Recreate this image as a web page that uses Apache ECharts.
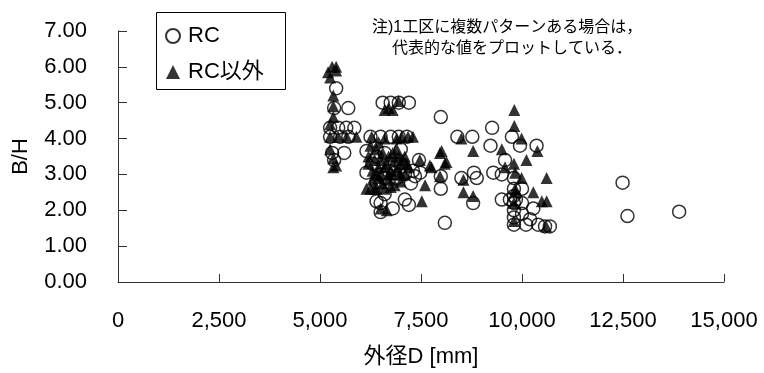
<!DOCTYPE html>
<html>
<head>
<meta charset="utf-8">
<script src="https://cdn.jsdelivr.net/npm/echarts@6/dist/echarts.min.js"></script>
<style>
  body { margin: 0; padding: 0; background: #fff; }
  #chart { width: 764px; height: 373px; }
</style>
</head>
<body>
<div id="chart"></div>
<script>
// 外径D [mm] / B/H — RC
const rcD = [
  5400, 5350, 5700, 5250, 5450, 5650, 5850, 5250, 5500, 5700, 5300, 5600, 5350,
  6550, 6750, 6950, 7200, 6250, 6500, 6750, 6950, 7150,
  6150, 6600, 7000, 7450, 6400, 6850, 6150, 6500, 6850, 7100, 7350,
  6400, 6900, 7250, 6400, 6500, 6800, 7100, 6500, 6600, 7200,
  6300, 6700, 7000, 6600, 7300,
  7990, 8400, 8770, 9260, 9220, 9750, 9950, 10360, 9580,
  7480, 7990, 8500, 8810, 8880, 9290, 9500, 7990, 8790, 9500, 8090,
  9800, 9800, 9800, 9800, 9800, 9800, 9850, 9700, 10000, 10100, 10000,
  10280, 10400, 10570, 10690, 10200, 9800, 10000,
  12490, 12610, 13890
];
const rcBH = [
  5.40, 4.85, 4.85, 4.30, 4.30, 4.30, 4.30, 4.05, 4.05, 4.05, 3.60, 3.60, 3.40,
  5.00, 5.00, 5.00, 5.00, 4.05, 4.05, 4.05, 4.05, 4.05,
  3.65, 3.60, 3.70, 3.40, 3.50, 3.30, 3.05, 3.00, 3.05, 3.00, 2.95,
  2.80, 2.90, 2.75, 2.25, 1.95, 2.05, 2.30, 2.20, 2.45, 2.15,
  3.30, 3.10, 3.30, 2.90, 3.10,
  4.60, 4.05, 4.05, 4.30, 3.80, 4.05, 3.80, 3.80, 3.40,
  3.05, 2.95, 2.90, 3.05, 2.90, 3.05, 3.00, 2.60, 2.20, 2.30, 1.65,
  2.60, 2.40, 2.20, 2.00, 1.80, 1.60, 2.30, 2.30, 2.20, 1.60, 1.90,
  2.05, 1.60, 1.55, 1.55, 1.75, 2.90, 2.60,
  2.77, 1.84, 1.96
];
// RC以外
const otherD = [
  5200, 5400, 5250, 5300, 5400, 5330, 5330, 5330, 5250, 5250, 5450, 5660, 5900, 5330, 5330, 5400, 5250,
  6600, 6800, 6940, 6700, 6280, 7020, 7180, 7300, 6450,
  6200, 6400, 6500, 6600, 6700, 6800, 6900, 7000, 7100, 7200, 6300, 6500, 6700, 6900, 7100,
  6250, 6400, 6600, 6850, 7000, 6300, 6700, 7050, 6500, 6200,
  6250, 6350, 6450, 6550, 6650, 6750, 6850, 6950, 7000, 7150,
  6350, 6550, 6750, 6450, 6650, 6150, 6400, 6800, 6600, 6900,
  7520, 7600, 7720, 7970, 8130, 7970, 7470, 7760, 8010, 8090, 8500, 8790, 9500, 10110, 9580,
  8550, 8550, 8790, 9810, 9810, 9990, 10380, 9830, 9990, 9830, 9830, 10610, 10280, 10490, 10610,
  9800, 9800, 10600, 9800
];
const otherBH = [
  5.85, 5.90, 5.70, 6.00, 6.00, 5.20, 4.90, 4.60, 4.40, 4.05, 4.05, 4.05, 4.05, 3.45, 3.20, 3.25, 3.70,
  4.80, 4.80, 5.05, 4.85, 4.05, 4.05, 4.05, 4.05, 3.90,
  3.50, 3.70, 3.40, 3.20, 3.50, 3.60, 3.70, 3.30, 3.50, 3.20, 3.10, 3.00, 3.00, 3.10, 3.00,
  2.60, 2.60, 2.60, 2.70, 2.80, 2.85, 2.85, 3.40, 2.05, 3.30,
  3.80, 3.40, 3.20, 3.60, 3.30, 3.10, 3.40, 3.50, 3.00, 3.30,
  2.60, 2.75, 2.65, 2.90, 2.00, 2.60, 3.00, 3.00, 4.00, 4.00,
  2.25, 2.70, 3.25, 3.60, 3.35, 2.95, 3.40, 3.20, 3.65, 3.30, 4.00, 3.65, 3.70, 3.40, 3.20,
  2.85, 2.50, 2.40, 4.80, 4.35, 4.00, 3.65, 3.05, 2.90, 2.60, 2.50, 2.90, 2.50, 2.25, 2.25,
  2.20, 1.70, 1.55, 3.30
];
const xTicks = [0, 2500, 5000, 7500, 10000, 12500, 15000];
const yTicks = [0, 1, 2, 3, 4, 5, 6, 7];
const noteLines = ['注)1工区に複数パターンある場合は，', '代表的な値をプロットしている．'];

const FONT = '"Liberation Sans", "Noto Sans CJK JP", sans-serif';
const zip = (xs, ys) => xs.map((x, i) => [x, ys[i]]);

const chart = echarts.init(document.getElementById('chart'));
chart.setOption({
  animation: false,
  textStyle: { fontFamily: FONT, color: '#000' },
  grid: { left: 118, right: 40, top: 31, bottom: 90, containLabel: false },
  xAxis: {
    type: 'value',
    min: xTicks[0],
    max: xTicks[xTicks.length - 1],
    interval: 2500,
    name: '外径D [mm]',
    nameLocation: 'middle',
    nameGap: 64,
    nameTextStyle: { fontSize: 22, fontFamily: FONT, color: '#000' },
    axisLine: { lineStyle: { color: '#333', width: 1 } },
    axisTick: { inside: true, length: 8, lineStyle: { color: '#333' } },
    axisLabel: {
      fontSize: 22, color: '#000', margin: 28,
      formatter: (v) => v.toLocaleString('en-US'),
    },
    splitLine: { show: false },
  },
  yAxis: {
    type: 'value',
    min: yTicks[0],
    max: yTicks[yTicks.length - 1],
    interval: 1,
    name: 'B/H',
    nameLocation: 'middle',
    nameGap: 86,
    nameRotate: 90,
    nameTextStyle: { fontSize: 22, fontFamily: FONT, color: '#000' },
    axisLine: { show: true, lineStyle: { color: '#333', width: 1 } },
    axisTick: { show: true, inside: true, length: 9, lineStyle: { color: '#333' } },
    axisLabel: {
      fontSize: 22, color: '#000', margin: 31,
      formatter: (v) => v.toFixed(2),
    },
    splitLine: { show: false },
  },
  legend: {
    orient: 'vertical',
    left: 160,
    top: 20,
    itemWidth: 14,
    itemHeight: 14,
    itemGap: 14,
    data: ['RC', 'RC以外'],
    textStyle: { fontSize: 22, fontFamily: FONT, color: '#000', padding: [0, 0, 0, 3] },
  },
  graphic: [
    {
      type: 'rect',
      shape: { x: 156.5, y: 12.5, width: 129, height: 77 },
      style: { fill: 'none', stroke: '#000', lineWidth: 1 },
      z: 10,
    },
    {
      type: 'text',
      style: {
        x: 372, y: 28, text: noteLines[0], textAlign: 'left', textVerticalAlign: 'middle',
        font: '16px ' + FONT, fill: '#000',
      },
    },
    {
      type: 'text',
      style: {
        x: 392, y: 49, text: noteLines[1], textAlign: 'left', textVerticalAlign: 'middle',
        font: '16px ' + FONT, fill: '#000',
      },
    },
  ],
  series: [
    {
      name: 'RC',
      type: 'scatter',
      symbol: 'circle',
      symbolSize: 13,
      data: zip(rcD, rcBH),
      itemStyle: { color: 'rgba(0,0,0,0)', borderColor: '#000', borderWidth: 1.5 },
    },
    {
      name: 'RC以外',
      type: 'scatter',
      symbol: 'triangle',
      symbolSize: 12,
      data: zip(otherD, otherBH),
      itemStyle: { color: '#000' },
    },
  ],
});
</script>
</body>
</html>
